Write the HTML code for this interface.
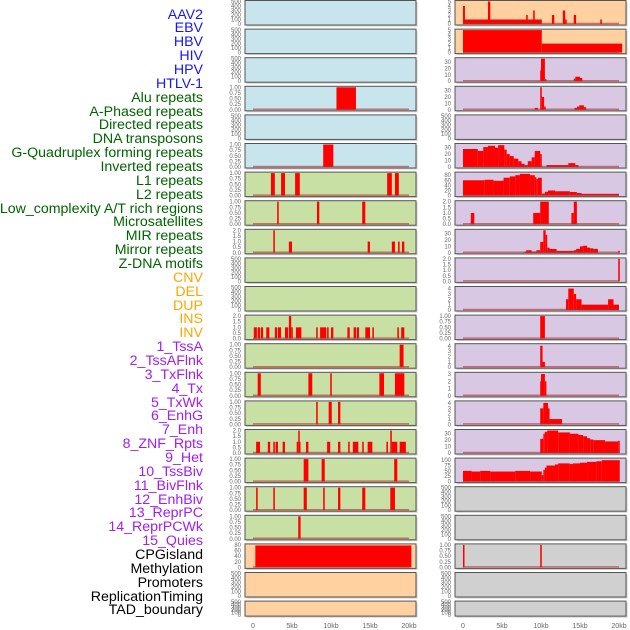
<!DOCTYPE html>
<html><head><meta charset="utf-8"><style>
body{margin:0;background:#fff;width:630px;height:630px;overflow:hidden;font-family:"Liberation Sans",sans-serif}
#labels div{position:absolute;right:427px;font-size:14.2px;line-height:14px;white-space:nowrap}
</style></head><body>
<div id="labels"></div>
<svg id="chart" width="630" height="630" style="position:absolute;left:0;top:0"></svg>
<script>
const trackNames = ["AAV2","EBV","HBV","HIV","HPV","HTLV-1","Alu repeats","A-Phased repeats","Directed repeats","DNA transposons","G-Quadruplex forming repeats","Inverted repeats","L1 repeats","L2 repeats","Low_complexity A/T rich regions","Microsatellites","MIR repeats","Mirror repeats","Z-DNA motifs","CNV","DEL","DUP","INS","INV","1_TssA","2_TssAFlnk","3_TxFlnk","4_Tx","5_TxWk","6_EnhG","7_Enh","8_ZNF_Rpts","9_Het","10_TssBiv","11_BivFlnk","12_EnhBiv","13_ReprPC","14_ReprPCWk","15_Quies","CPGisland","Methylation","Promoters","ReplicationTiming","TAD_boundary"];
const trackColors = ["#1515ff","#1515ff","#1515ff","#1515ff","#1515ff","#1515ff","#006400","#006400","#006400","#006400","#006400","#006400","#006400","#006400","#006400","#006400","#006400","#006400","#006400","#ffa500","#ffa500","#ffa500","#ffa500","#ffa500","#a020f0","#a020f0","#a020f0","#a020f0","#a020f0","#a020f0","#a020f0","#a020f0","#a020f0","#a020f0","#a020f0","#a020f0","#a020f0","#a020f0","#a020f0","#000","#000","#000","#000","#000"];
const xTickLabels = ["0","5kb","10kb","15kb","20kb"];
const xTickValues = [0,5,10,15,20];
const T500=["0","100","200","300","400","500"], T1=["0.00","0.25","0.50","0.75","1.00"], T2=["0.0","0.5","1.0","1.5","2.0"], T30=["0","10","20","30"], T80=["0","20","40","60","80"], T5=["0","1","2","3","4","5"], T4=["0","1","2","3","4"], T3=["0","1","2","3"], T100=["0","25","50","75","100"];
const leftBg = ["#c8e4ec","#c8e4ec","#c8e4ec","#c8e4ec","#c8e4ec","#c8e4ec","#c8e0a4","#c8e0a4","#c8e0a4","#c8e0a4","#c8e0a4","#c8e0a4","#c8e0a4","#c8e0a4","#c8e0a4","#c8e0a4","#c8e0a4","#c8e0a4","#c8e0a4","#ffd0a0","#ffd0a0","#ffd0a0"];
const rightBg = ["#ffd0a0","#ffd0a0","#d8c8e4","#d8c8e4","#d8c8e4","#d8c8e4","#d8c8e4","#d8c8e4","#d8c8e4","#d8c8e4","#d8c8e4","#d8c8e4","#d8c8e4","#d8c8e4","#d8c8e4","#d8c8e4","#d8c8e4","#d0d0d0","#d0d0d0","#d0d0d0","#d0d0d0","#d0d0d0"];
const leftMax = [500,500,500,1,500,1,1,1,2,500,500,2,1,1,1,2,1,1,1,80,500,500];
const rightMax = [5,5,35,35,500,35,88,2,35,2,4.2,1,4.2,3.1,4.2,35,105,500,500,1,500,500];
const leftTicks = [T500,T500,T500,T1,T500,T1,T1,T1,T2,T500,T500,T2,T1,T1,T1,T2,T1,T1,T1,T80,T500,T500];
const rightTicks = [T5,T5,T30,T30,T500,T30,T80,T2,T30,T2,T4,T1,T4,T3,T4,T30,T100,T500,T500,T1,T500,T500];
const leftBars = [
 [],[],[],
 [[10.7,13.2,1]],
 [],
 [[9.0,10.3,1]],
 [[2.3,2.8,1],[3.6,4.1,1],[5.4,6.0,1],[17.2,17.8,1],[18.2,18.7,1]],
 [[3.1,3.3,1],[8.2,8.5,1],[14.0,14.4,1]],
 [[2.6,2.8,2],[4.6,5.0,1],[14.7,15.0,1],[17.8,18.2,1],[18.6,18.8,1],[19.1,19.4,1]],
 [],[],
 [[0.1,0.5,1],[0.6,0.9,1],[1.0,1.3,1],[1.7,2.1,1],[2.8,3.1,1],[3.2,3.6,1],[4.1,4.5,1],[4.6,4.9,2],[4.9,5.1,1],[5.5,6.2,1],[8.1,8.3,1],[8.6,9.4,1],[9.5,9.7,1],[10.0,10.3,1],[12.1,12.4,1],[12.9,13.2,1],[13.3,13.6,1],[14.4,15.0,1],[15.3,15.5,1],[18.5,18.7,1],[19.0,19.4,1]],
 [[18.8,19.3,1]],
 [[0.6,1.0,1],[7.1,7.6,1],[9.9,10.1,1],[16.2,16.8,1],[18.2,19.4,1]],
 [[8.1,8.3,1],[9.7,10.1,1],[10.9,11.2,1]],
 [[0.4,0.9,1],[1.9,2.2,1],[2.6,2.8,1],[2.9,3.2,1],[3.8,4.1,1],[5.6,5.8,1],[5.8,5.9,2],[5.9,6.0,1],[6.8,7.1,1],[9.5,9.9,1],[10.9,11.2,1],[12.2,12.4,1],[12.8,13.5,1],[14.0,14.2,1],[14.7,15.3,1],[17.1,17.3,1],[17.6,17.8,2],[17.8,18.5,1],[18.8,19.6,1]],
 [[6.5,7.1,1],[8.8,9.2,1],[18.1,18.5,1]],
 [[0.4,0.6,1],[2.6,2.8,1],[6.5,6.9,1],[9.0,9.2,1],[10.9,11.2,1],[14.0,14.4,1],[17.6,18.2,1]],
 [[5.8,6.1,1]],
 [[0.3,20.3,78]],
 [],[]
];
const rightBars = [
 [[0.0,10.1,1],[0.0,0.25,4],[3.2,3.5,5],[8.1,8.3,2],[9.0,9.2,3],[11.4,11.7,2],[12.8,13.1,3],[13.1,13.3,1],[14.2,14.5,2],[17.6,17.8,1]],
 [[0.0,10.1,5],[10.1,20.4,2]],
 [[9.9,10.1,17],[10.0,10.5,35],[10.5,10.6,3],[14.2,14.4,4],[14.4,15.0,7],[15.0,15.3,5]],
 [[9.2,9.6,3],[9.9,10.1,35],[10.1,10.4,20],[10.4,10.6,5],[14.3,14.6,3],[14.6,14.9,5],[14.9,15.5,7],[15.5,15.8,4]],
 [],
 [[0.0,1.9,28],[1.9,2.6,25],[2.6,3.2,31],[3.2,4.1,33],[4.1,4.5,30],[4.5,5.3,34],[5.3,5.6,27],[5.6,6.0,20],[6.0,6.5,17],[6.5,7.1,13],[7.1,7.5,9],[7.5,7.9,5],[7.9,8.3,3],[8.3,8.8,9],[8.8,9.2,15],[9.2,9.9,25],[9.9,10.1,20],[10.7,13.5,3],[13.5,14.4,6],[14.4,14.8,3]],
 [[0.0,2.8,60],[2.8,3.9,62],[3.9,5.2,58],[5.2,6.0,70],[6.0,6.7,75],[6.7,7.3,80],[7.3,8.6,85],[8.6,9.2,80],[9.2,9.4,72],[9.4,9.6,65],[9.6,10.1,70],[10.1,10.5,8],[10.5,10.9,15],[10.9,11.8,20],[11.8,13.7,17],[13.7,14.6,14],[14.6,15.2,10],[15.2,20.0,7]],
 [[1.0,1.45,1],[9.0,9.9,1],[9.9,11.0,2],[13.9,14.2,1],[14.2,14.6,2]],
 [[7.9,8.1,2],[8.1,8.8,4],[8.8,9.4,2],[9.4,9.9,4],[9.9,10.3,17],[10.3,10.6,35],[10.6,10.8,28],[10.8,11.1,8],[11.1,12.0,6],[12.0,14.2,3],[14.2,14.5,4],[14.5,15.0,6],[15.0,15.4,10],[15.4,15.9,11],[15.9,16.3,8],[16.3,16.7,7],[16.7,17.3,6],[19.9,20.1,3]],
 [[19.9,20.1,2]],
 [[13.2,13.5,2],[13.5,14.2,4],[14.2,14.5,3],[14.5,15.2,2],[15.2,18.6,1],[18.6,19.3,2],[19.3,20.0,1]],
 [[9.9,10.5,1]],
 [[9.9,10.2,4],[10.2,10.5,1]],
 [[9.9,10.0,2],[10.0,10.5,3],[10.5,10.6,2]],
 [[9.9,10.3,3],[10.3,10.9,4],[10.9,11.1,3],[11.1,12.7,1]],
 [[9.9,10.3,22],[10.3,10.5,30],[10.5,10.8,33],[10.8,12.2,35],[12.2,13.7,32],[13.7,14.8,30],[14.8,15.4,28],[15.4,15.9,26],[15.9,16.3,23],[16.3,16.7,21],[16.7,18.2,20],[18.2,19.9,18],[19.9,20.1,19]],
 [[0.0,1.1,50],[1.1,2.2,47],[2.2,3.5,50],[3.5,6.7,47],[6.7,8.6,50],[8.6,10.1,47],[10.1,10.3,30],[10.3,10.5,55],[10.5,10.7,65],[10.7,11.8,75],[11.8,12.2,80],[12.2,13.7,85],[13.7,14.1,82],[14.1,15.0,85],[15.0,15.9,88],[15.9,17.1,92],[17.1,17.8,95],[17.8,20.1,100]],
 [],[],
 [[0.0,0.15,1],[9.9,10.1,1]],
 [],[]
];
const NS="http://www.w3.org/2000/svg";
const svg=document.getElementById('chart');
function mk(tag,attrs,parent){const e=document.createElementNS(NS,tag);for(const k in attrs)e.setAttribute(k,attrs[k]);(parent||svg).appendChild(e);return e;}
const PITCH=28.6, PH=24.5;
function panelTop(i){return 0.5+i*PITCH;}
function panelH(i){return i===21?15:PH;}
function xScale(col,kb){return (col===0?253:463)+kb*7.8;}
function yScale(i,v,max){const t=panelTop(i),h=panelH(i);return t+h-1-(v/max)*(h-2);}
const lab=document.getElementById('labels');
trackNames.forEach((n,k)=>{const d=document.createElement('div');d.textContent=n;d.style.top=(15+k*13.86-7.5)+'px';d.style.color=trackColors[k];


lab.appendChild(d);});
function drawCol(col,bgs,maxs,ticks,bars){
 const x0=col===0?245:455, w=171;
 bgs.forEach((bg,i)=>{
  const t=panelTop(i),h=panelH(i);
  const g=mk('g',{});
  
  
  mk('rect',{x:x0+1.5,y:t+1.5,width:w,height:h,fill:'#ccc'},g);
  mk('rect',{x:x0,y:t,width:w,height:h,fill:bg,stroke:'#555','stroke-width':1},g);
  bars[i].forEach(b=>{
   const xa=xScale(col,b[0]),xb=xScale(col,b[1]),y=yScale(i,b[2],maxs[i]),yb=yScale(i,0,maxs[i]);
   const r=mk('rect',{x:xa,y:Math.max(y,t+0.5),width:Math.max(xb-xa,1.5),height:yb-Math.max(y,t+0.5),fill:'#ff0000'},g);
   
   
  });
  if(bars[i].length){const l=mk('line',{x1:xScale(col,0),x2:xScale(col,20),y1:t+h-1.5,y2:t+h-1.5,stroke:'rgba(190,40,40,0.6)','stroke-width':1.5},g);
   
   }
  ticks[i].forEach(s=>{const v=parseFloat(s);const tx=mk('text',{x:x0-4,y:yScale(i,v,maxs[i])+2,'text-anchor':'end','font-size':6,fill:'#666'},g);tx.textContent=s;
   
   });
 });
 xTickValues.forEach((v,k)=>{const tx=mk('text',{x:xScale(col,v),y:628,'text-anchor':'middle','font-size':7,fill:'#666'});tx.textContent=xTickLabels[k];
  
  });
}
drawCol(0,leftBg,leftMax,leftTicks,leftBars);
drawCol(1,rightBg,rightMax,rightTicks,rightBars);
</script>
</body></html>
